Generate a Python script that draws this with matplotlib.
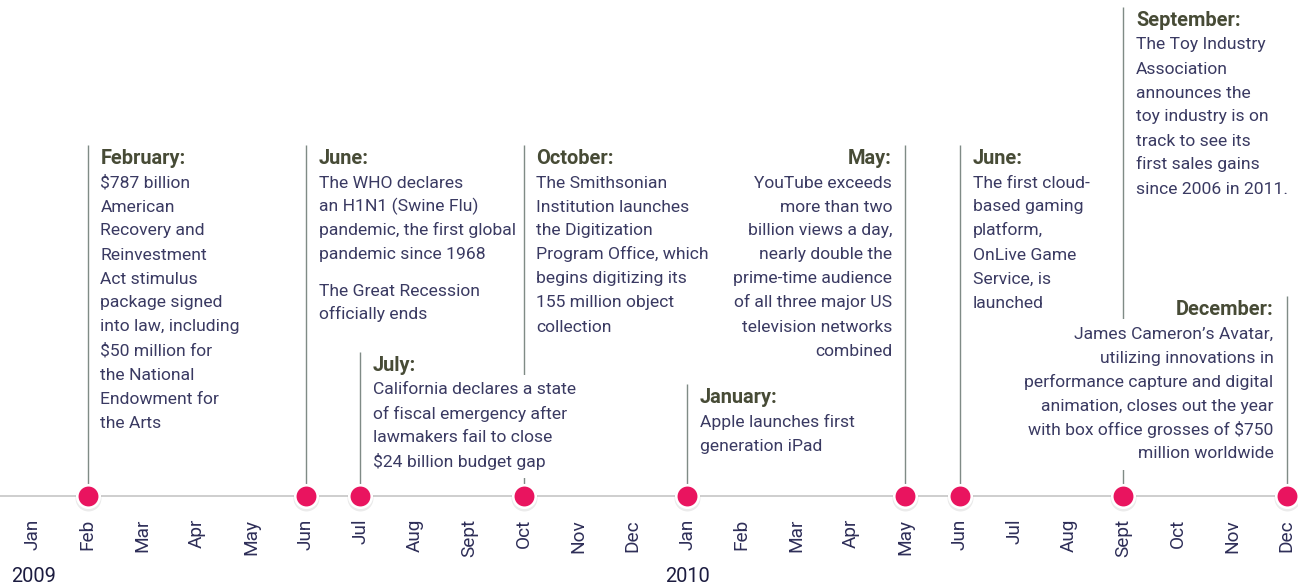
import matplotlib
matplotlib.use("Agg")
import matplotlib.pyplot as plt
from matplotlib.patches import Rectangle
from matplotlib.transforms import Bbox

# ---------------- data ----------------
month_labels = ["Jan", "Feb", "Mar", "Apr", "May", "Jun", "Jul", "Aug",
                "Sept", "Oct", "Nov", "Dec"] * 2
year_labels = ["2009", "2010"]
year_month_idx = [0, 12]

event_month_idx = [1, 5, 6, 9, 12, 16, 17, 20, 23]
event_titles = ["February:", "June:", "July:", "October:", "January:",
                "May:", "June:", "September:", "December:"]
event_bodies = [
    "$787 billion\nAmerican\nRecovery and\nReinvestment\nAct stimulus\npackage signed\ninto law, including\n$50 million for\nthe National\nEndowment for\nthe Arts",
    "The WHO declares\nan H1N1 (Swine Flu)\npandemic, the first global\npandemic since 1968\n\nThe Great Recession\nofficially ends",
    "California declares a state\nof fiscal emergency after\nlawmakers fail to close\n$24 billion budget gap",
    "The Smithsonian\nInstitution launches\nthe Digitization\nProgram Office, which\nbegins digitizing its\n155 million object\ncollection",
    "Apple launches first\ngeneration iPad",
    "YouTube exceeds\nmore than two\nbillion views a day,\nnearly double the\nprime-time audience\nof all three major US\ntelevision networks\ncombined",
    "The first cloud-\nbased gaming\nplatform,\nOnLive Game\nService, is\nlaunched",
    "The Toy Industry\nAssociation\nannounces the\ntoy industry is on\ntrack to see its\nfirst sales gains\nsince 2006 in 2011.",
    "James Cameron\u2019s Avatar,\nutilizing innovations in\nperformance capture and digital\nanimation, closes out the year\nwith box office grosses of $750\nmillion worldwide",
]

# ---------------- layout / style ----------------
event_align = ["left", "left", "left", "left", "left", "right", "left", "left", "right"]
event_title_y = [157, 157, 364, 157, 396, 157, 157, 19, 308]   # px from top

W, H, DPI = 1298, 587, 100
MONTH_PX = 54.5
FIRST_PX = 33
AXIS_Y = 496
LINE_STEP = 24
TEXT_OFF_PX = 13

PINK = "#e9145f"
STEM = "#7f8b86"
AXIS = "#cfcfcf"
HEAD = "#474b36"
BODY = "#3a3a62"
MONTHC = "#2e2e58"

plt.rcParams["font.family"] = ["Roboto", "DejaVu Sans"]

fig = plt.figure(figsize=(W / DPI, H / DPI), dpi=DPI)
ax = fig.add_axes([0, 0, 1, 1])
ax.set_xlim(-FIRST_PX / MONTH_PX, (W - FIRST_PX) / MONTH_PX)
ax.set_ylim(H, 0)
ax.axis("off")

px2pt = 72 / DPI
dx = TEXT_OFF_PX / MONTH_PX

# axis line
ax.axhline(AXIS_Y, color=AXIS, lw=2 * px2pt, zorder=1)

# month + year labels
for i, m in enumerate(month_labels):
    ax.text(i, 519, m, rotation=90, ha="center", va="top",
            fontsize=19 * px2pt, color=MONTHC, fontweight="normal")
for y, idx in zip(year_labels, year_month_idx):
    ax.text(idx - 22 / MONTH_PX, 577, y, ha="left", va="center",
            fontsize=20 * px2pt, color="#1c1c40")

body_groups = []
for idx, title, body, align, ty in zip(event_month_idx, event_titles, event_bodies,
                                       event_align, event_title_y):
    # stem
    ax.plot([idx, idx], [ty - 12, AXIS_Y], color=STEM, lw=1.4 * px2pt, zorder=2,
            solid_capstyle="butt")
    tx = idx + dx if align == "left" else idx - dx
    ax.text(tx, ty + 7, title, ha=align, va="baseline", fontsize=20 * px2pt,
            fontweight="bold", color=HEAD, zorder=4, parse_math=False)
    y = ty + 24.5
    texts = []
    for line in body.split("\n"):
        if line == "":
            y += LINE_STEP / 2
            continue
        t = ax.text(tx, y + 6, line, ha=align, va="baseline",
                    fontsize=17.5 * px2pt, fontweight="normal", color=BODY,
                    zorder=4, parse_math=False)
        texts.append(t)
        y += LINE_STEP
    body_groups.append(texts)

# white backgrounds behind body blocks (hide stems passing behind text)
fig.canvas.draw()
r = fig.canvas.get_renderer()
inv = ax.transData.inverted()
for texts in body_groups:
    bb = Bbox.union([t.get_window_extent(r) for t in texts])
    x0, y0 = inv.transform((bb.x0 - 3, bb.y0 - 8))
    x1, y1 = inv.transform((bb.x1 + 3, bb.y1 + 8))
    ax.add_patch(Rectangle((min(x0, x1), min(y0, y1)), abs(x1 - x0), abs(y1 - y0),
                           facecolor="white", edgecolor="none", zorder=3))

# dots with soft shadow
n = len(event_month_idx)
ax.plot(event_month_idx, [AXIS_Y + 2] * n, "o", ms=26 * px2pt, color=(0, 0, 0, 0.08),
        mec="none", zorder=5)
ax.plot(event_month_idx, [AXIS_Y] * n, "o", ms=22.5 * px2pt, mfc=PINK, mec="white",
        mew=2.6 * px2pt, zorder=6)

fig.savefig("out.png", dpi=DPI, facecolor="white")
